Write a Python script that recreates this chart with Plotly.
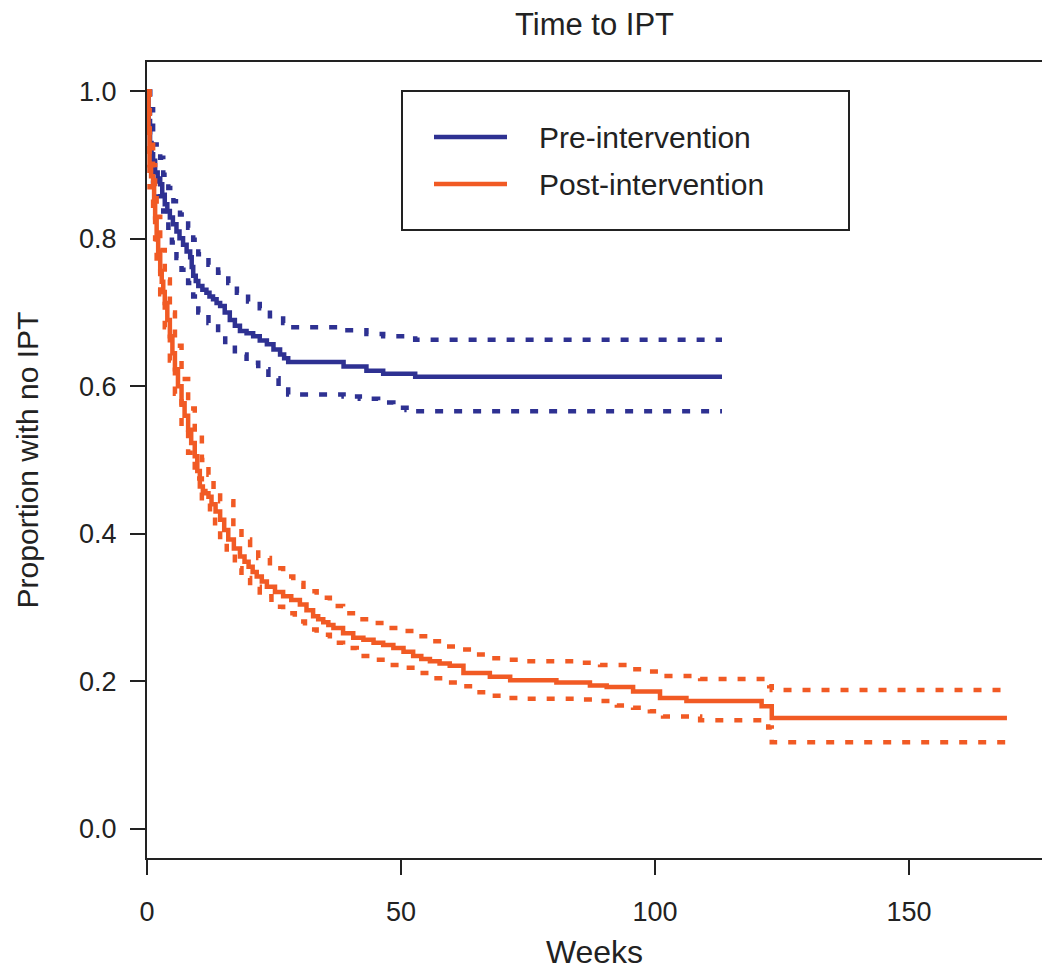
import plotly.graph_objects as go

# ---- data ----
pre_weeks = [0, 0.3, 0.6, 0.9, 1.2, 1.6, 2.1, 2.6, 3.0, 3.5, 4.0, 4.5, 5.1, 5.8, 6.4, 7.1, 7.8, 8.5,
             8.8, 9.1, 9.6, 10.1, 10.9, 11.7, 12.3, 13.0, 13.7, 14.4, 15.3, 16.3, 17.3, 18.3, 19.6,
             20.9, 22.2, 23.6, 24.9, 26.2, 27.0, 27.8, 38.7, 43.2, 46.5, 52.8, 113.2]
pre_surv = [1.0, 0.96, 0.93, 0.915, 0.906, 0.89, 0.882, 0.874, 0.86, 0.847, 0.838, 0.829, 0.82, 0.81,
            0.801, 0.792, 0.783, 0.775, 0.762, 0.75, 0.743, 0.736, 0.731, 0.727, 0.722, 0.718, 0.713,
            0.709, 0.70, 0.69, 0.682, 0.675, 0.672, 0.668, 0.662, 0.657, 0.65, 0.643, 0.638, 0.633,
            0.627, 0.621, 0.617, 0.613, 0.613]

pre_up_weeks = [0, 0.6, 1.2, 1.9, 2.6, 3.2, 4.2, 5.2, 6.5, 8.1, 9.1, 10.1, 12.1, 14.0, 16.0, 17.7,
                19.9, 22.2, 24.2, 26.8, 27.8, 38.7, 43.2, 46.5, 52.8, 113.2]
pre_up = [1.0, 0.976, 0.928, 0.918, 0.91, 0.887, 0.869, 0.851, 0.833, 0.815, 0.799, 0.779, 0.765,
          0.754, 0.740, 0.727, 0.715, 0.706, 0.695, 0.686, 0.680, 0.676, 0.671, 0.668, 0.663, 0.663]

pre_lo_weeks = [0, 0.6, 1.2, 2.2, 3.2, 4.2, 4.9, 5.8, 6.8, 8.1, 9.1, 10.1, 12.1, 14.0, 15.4, 17.3,
                19.6, 21.9, 23.9, 25.9, 27.8, 38.7, 41.9, 45.5, 48.5, 51.1, 52.8, 113.2]
pre_lo = [1.0, 0.89, 0.878, 0.858, 0.837, 0.815, 0.795, 0.774, 0.758, 0.74, 0.722, 0.70, 0.686, 0.672,
          0.657, 0.643, 0.632, 0.623, 0.611, 0.60, 0.589, 0.586, 0.583, 0.578, 0.571, 0.568, 0.566, 0.566]

post_weeks = [0, 0.3, 0.5, 0.8, 1.2, 1.4, 1.6, 1.9, 2.2, 2.6, 2.9, 3.2, 3.5, 4.0, 4.5, 5.0, 5.5, 6.1,
              6.8, 7.4, 8.1, 8.7, 9.4, 9.9, 10.4, 11.0, 11.5, 12.1, 12.7, 13.5, 14.4, 15.2, 16.0,
              17.1, 18.3, 19.2, 20.0, 20.8, 21.6, 22.6, 23.6, 25.2, 26.8, 28.4, 30.1, 31.4, 32.7,
              33.7, 34.7, 35.7, 36.7, 38.6, 40.6, 42.6, 44.6, 46.5, 48.5, 50.5, 52.4, 54.0, 55.7,
              57.6, 59.6, 62.3, 67.5, 71.5, 80.6, 87.2, 90.5, 95.7, 101.0, 106.2, 121.0, 123.0, 169.3]
post_surv = [1.0, 0.95, 0.9, 0.885, 0.874, 0.85, 0.829, 0.801, 0.78, 0.756, 0.742, 0.728, 0.713, 0.69,
             0.668, 0.645, 0.623, 0.60, 0.577, 0.56, 0.541, 0.523, 0.505, 0.485, 0.464, 0.458, 0.455,
             0.45, 0.44, 0.43, 0.419, 0.405, 0.392, 0.38, 0.369, 0.362, 0.355, 0.348, 0.342, 0.335,
             0.328, 0.321, 0.315, 0.31, 0.304, 0.296, 0.288, 0.284, 0.28, 0.276, 0.272, 0.265, 0.259,
             0.256, 0.252, 0.249, 0.245, 0.24, 0.234, 0.23, 0.227, 0.224, 0.221, 0.211, 0.206, 0.201,
             0.198, 0.194, 0.192, 0.186, 0.177, 0.173, 0.166, 0.150, 0.150]

post_up_weeks = [0, 0.5, 1.2, 1.6, 1.9, 2.6, 3.5, 4.5, 5.5, 6.8, 8.1, 9.4, 10.8, 12.1, 13.1, 14.4,
                 17.0, 18.6, 20.3, 21.9, 24.2, 26.8, 28.8, 30.8, 33.4, 36.0, 38.6, 41.3, 43.9, 47.2,
                 50.1, 53.1, 55.7, 58.3, 61.6, 64.3, 67.5, 70.8, 74.7, 85.2, 89.2, 95.7, 99.0, 102.3,
                 108.9, 122.5, 123.0, 169.3]
post_up = [1.0, 0.94, 0.90, 0.855, 0.83, 0.785, 0.745, 0.70, 0.655, 0.61, 0.57, 0.535, 0.50, 0.48,
           0.46, 0.444, 0.408, 0.392, 0.379, 0.367, 0.353, 0.342, 0.333, 0.322, 0.313, 0.302, 0.292,
           0.284, 0.279, 0.272, 0.268, 0.261, 0.254, 0.247, 0.243, 0.236, 0.231, 0.229, 0.227, 0.225,
           0.222, 0.216, 0.213, 0.207, 0.203, 0.193, 0.188, 0.188]

post_lo_weeks = [0, 0.5, 1.2, 1.6, 1.9, 2.6, 3.5, 4.5, 5.5, 6.8, 8.1, 9.4, 10.8, 12.4, 13.4, 14.4,
                 15.7, 17.3, 18.6, 20.3, 22.2, 24.5, 26.8, 29.1, 31.1, 33.4, 36.0, 38.6, 41.3, 44.6,
                 47.2, 50.5, 53.1, 55.7, 59.0, 61.6, 64.6, 67.5, 70.8, 74.7, 85.2, 89.2, 92.5, 95.7,
                 99.0, 101.6, 108.9, 122.3, 123.0, 169.3]
post_lo = [1.0, 0.87, 0.845, 0.80, 0.77, 0.725, 0.68, 0.635, 0.59, 0.545, 0.51, 0.475, 0.442, 0.428,
           0.410, 0.392, 0.372, 0.353, 0.340, 0.328, 0.315, 0.301, 0.292, 0.281, 0.270, 0.263, 0.252,
           0.245, 0.234, 0.229, 0.222, 0.218, 0.211, 0.204, 0.198, 0.193, 0.185, 0.180, 0.177, 0.176,
           0.175, 0.173, 0.167, 0.164, 0.159, 0.152, 0.147, 0.137, 0.117, 0.117]

x_ticks = [0, 50, 100, 150]
y_ticks = [0.0, 0.2, 0.4, 0.6, 0.8, 1.0]
y_tick_labels = ["0.0", "0.2", "0.4", "0.6", "0.8", "1.0"]
series_names = ["Pre-intervention", "Post-intervention"]

BLUE = "#2E3192"
ORANGE = "#F15A24"
INK = "#222222"
FONT = "Liberation Sans, Arial, Helvetica, sans-serif"
DOT = "8px,11px"

fig = go.Figure()


def add_step(x, y, color, dash=None, width=4.5):
    line = dict(color=color, width=width, shape="hv")
    if dash:
        line["dash"] = dash
    fig.add_trace(go.Scatter(x=x, y=y, mode="lines", line=line, showlegend=False,
                             hoverinfo="skip"))


add_step(pre_up_weeks, pre_up, BLUE, DOT)
add_step(pre_lo_weeks, pre_lo, BLUE, DOT)
add_step(pre_weeks, pre_surv, BLUE)
add_step(post_up_weeks, post_up, ORANGE, DOT)
add_step(post_lo_weeks, post_lo, ORANGE, DOT)
add_step(post_weeks, post_surv, ORANGE)

# the page body adds an 8px margin; compensate so the plot lands where the reference has it
OFF = 8
W, H = 1050 - OFF, 971 - OFF
# plot area in reference pixels: left 147, right 1042, top 62, bottom 858
L, R, T, B = 147 - OFF, 1042 - OFF, 62 - OFF, 858 - OFF
pw, ph = R - L, B - T


def px_to_paper(px, py):
    return (px - OFF - L) / pw, (B - (py - OFF)) / ph


# legend box drawn by hand (R style)
x0, y0 = px_to_paper(402, 230)
x1, y1 = px_to_paper(849, 91)
shapes = [dict(type="rect", xref="paper", yref="paper", x0=x0, y0=y0, x1=x1, y1=y1,
               line=dict(color=INK, width=2), fillcolor="rgba(0,0,0,0)")]
annotations = []
for i, (name, col) in enumerate(zip(series_names, [BLUE, ORANGE])):
    ly = 137 + 47 * i
    lx0, lyp = px_to_paper(434, ly)
    lx1, _ = px_to_paper(507, ly)
    shapes.append(dict(type="line", xref="paper", yref="paper", x0=lx0, x1=lx1, y0=lyp, y1=lyp,
                       line=dict(color=col, width=4.5)))
    tx, _ = px_to_paper(537, ly)
    annotations.append(dict(xref="paper", yref="paper", x=tx, y=lyp, text=name, showarrow=False,
                            xanchor="left", yanchor="middle",
                            font=dict(family=FONT, size=30, color=INK)))

fig.update_layout(
    template="none",
    width=W, height=H,
    margin=dict(l=L, r=W - R, t=T, b=H - B, autoexpand=False),
    paper_bgcolor="white", plot_bgcolor="white",
    title=dict(text="Time to IPT", x=0.5, xref="paper", y=1.0, yref="container",
               xanchor="center", yanchor="top", automargin=False, pad=dict(t=5),
               font=dict(family=FONT, size=31, color=INK)),
    shapes=shapes, annotations=annotations,
    showlegend=False,
    font=dict(family=FONT, color=INK),
)

fig.update_xaxes(range=[0, 176.2], tickvals=x_ticks, ticks="outside", ticklen=15, tickwidth=2,
                 tickcolor=INK, showline=True, linecolor=INK, linewidth=2, mirror=True,
                 showgrid=False, zeroline=False, ticklabelstandoff=14, automargin=False,
                 tickfont=dict(family=FONT, size=27, color=INK),
                 title=dict(text="Weeks", standoff=14, font=dict(family=FONT, size=32, color=INK)))
fig.update_yaxes(range=[-0.04, 1.04], tickvals=y_ticks, ticktext=y_tick_labels, ticks="outside",
                 ticklen=15, tickwidth=2, tickcolor=INK, showline=True, linecolor=INK,
                 linewidth=2, mirror=True, showgrid=False, zeroline=False, ticklabelstandoff=8,
                 automargin=False,
                 tickfont=dict(family=FONT, size=27, color=INK),
                 title=dict(text="Proportion with no IPT", standoff=32,
                            font=dict(family=FONT, size=30, color=INK)))

fig.write_html("out.html")
